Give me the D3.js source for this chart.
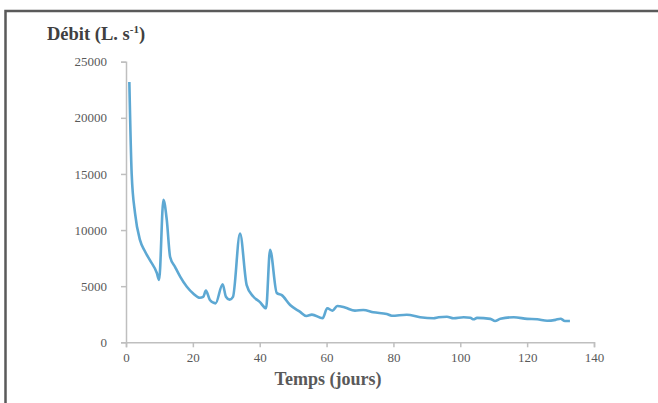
<!DOCTYPE html>
<html>
<head>
<meta charset="utf-8">
<script src="https://cdn.jsdelivr.net/npm/d3@7"></script>
<style>
  body { margin: 0; background: #fff; }
  svg { display: block; }
</style>
</head>
<body>
<svg id="chart"></svg>
<script>
const width = 658, height = 403;
const line_color = "#5DA8D3", axis_color = "#BFBFBF", text_color = "#595959", title_color = "#404040";
const frame_color = "#5A5A5A";
const font_family = "'Liberation Serif', 'DejaVu Serif', serif";

// flow (L/s) vs time (days)
const days = [1, 1.7, 2.7, 4.2, 5.5, 7.2, 9.2, 9.9, 11.2, 12.2, 13.2, 14.7, 16.2, 18.2, 20.1, 22.1, 23.1, 23.9, 25.1, 26.8,
  28.9, 29.9, 31, 32, 34.1, 36.1, 38, 40, 41.9, 43.1, 45.1, 46.6, 49.1, 52, 54, 55.6, 58.8, 60.2, 61.8, 63.2,
  65.5, 68.5, 71, 74, 78, 79.5, 84, 88, 92, 93.5, 96, 98, 101, 103, 104, 105, 109, 110.4, 112, 116,
  120, 123, 126, 128.5, 130, 131.3, 132.8];
const flow = [23200, 15000, 11500, 9100, 8200, 7300, 6200, 5550, 12700, 10900, 7600, 6700, 5850, 4950, 4350, 3970, 4050, 4600, 3770, 3470,
  5170, 4060, 3800, 4050, 9700, 5100, 4100, 3600, 3030, 8250, 4400, 4200, 3320, 2730, 2340, 2470, 2140, 3030, 2820, 3230,
  3100, 2820, 2880, 2670, 2520, 2370, 2460, 2230, 2140, 2230, 2280, 2140, 2230, 2180, 2050, 2180, 2090, 1900, 2100, 2230,
  2090, 2050, 1920, 2000, 2100, 1900, 1900];
const xTicks = [0, 20, 40, 60, 80, 100, 120, 140];
const yTicks = [0, 5000, 10000, 15000, 20000, 25000];

const svg = d3.select("#chart")
  .attr("width", width)
  .attr("height", height);

// chart frame (only top and left edges show in the crop)
svg.append("rect")
  .attr("x", 5.5).attr("y", 11)
  .attr("width", width + 10).attr("height", height + 10)
  .attr("fill", "none")
  .attr("stroke", frame_color)
  .attr("stroke-width", 2.5);

const x = d3.scaleLinear().domain([0, 140]).range([126, 594]);
const y = d3.scaleLinear().domain([0, 25000]).range([342.3, 61.7]);

////////////////////////////////////
//             Axes               //
////////////////////////////////////

const xAxis = svg.append("g")
  .attr("transform", `translate(0,${y(0)})`)
  .call(d3.axisBottom(x).tickValues(xTicks).tickSize(5).tickPadding(5));

const yAxis = svg.append("g")
  .attr("transform", `translate(${x(0)},0)`)
  .call(d3.axisLeft(y).tickValues(yTicks).tickSize(5).tickPadding(14).tickFormat(d3.format("d")));

[xAxis, yAxis].forEach(g => {
  g.select(".domain").attr("stroke", axis_color).attr("stroke-width", 1.5);
  g.selectAll(".tick line").attr("stroke", axis_color).attr("stroke-width", 1.5);
  g.selectAll(".tick text")
    .attr("fill", text_color)
    .attr("font-family", font_family)
    .attr("font-size", "13px");
});

////////////////////////////////////
//             Line               //
////////////////////////////////////

const series = days.map((d, i) => [d, flow[i]]);
const line = d3.line()
  .x(d => x(d[0]))
  .y(d => y(d[1]))
  .curve(d3.curveMonotoneX);

svg.append("path")
  .datum(series)
  .attr("d", line)
  .attr("fill", "none")
  .attr("stroke", line_color)
  .attr("stroke-width", 2.6)
  .attr("stroke-linejoin", "round");

////////////////////////////////////
//            Titles              //
////////////////////////////////////

const yTitle = svg.append("text")
  .attr("x", 47).attr("y", 40)
  .attr("font-family", font_family)
  .attr("font-size", "18.5px")
  .attr("font-weight", "bold")
  .attr("fill", title_color)
  .text("Débit (L. s");
yTitle.append("tspan")
  .attr("font-size", "11px")
  .attr("dy", -7.5)
  .text("-1");
yTitle.append("tspan")
  .attr("dy", 7.5)
  .text(")");

svg.append("text")
  .attr("x", 328).attr("y", 385)
  .attr("text-anchor", "middle")
  .attr("font-family", font_family)
  .attr("font-size", "18px")
  .attr("font-weight", "bold")
  .attr("fill", text_color)
  .text("Temps (jours)");
</script>
</body>
</html>
